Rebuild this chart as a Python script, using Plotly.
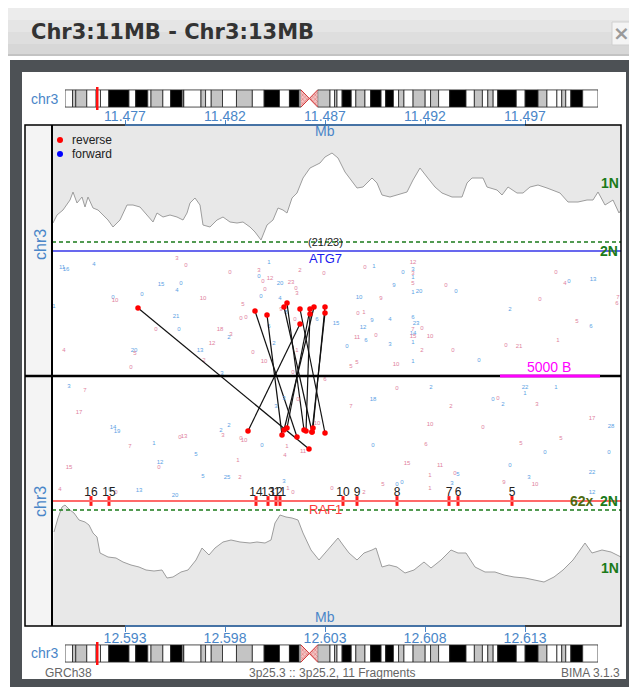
import plotly.graph_objects as go

W, H = 629, 687
def X(px): return px / W
def Y(py): return 1 - py / H

# ---------------- data ----------------
chrom_len = 198.3
band_start = [0, 2.8, 4.0, 8.1, 11.6, 13.2, 16.3, 23.8, 26.3, 30.8, 32.0, 36.4, 39.3, 43.6, 44.1, 44.2, 50.6, 52.3, 54.4, 58.6,
              63.8, 69.7, 74.1, 79.8, 83.5, 87.1, 94.0, 98.6, 100.3, 101.2, 103.1, 106.5, 108.2, 111.6, 113.7, 117.6, 119.3,
              122.2, 124.1, 126.1, 129.5, 134.0, 136.0, 139.0, 143.1, 149.2, 152.3, 155.3, 157.3, 159.3, 161.0, 167.9, 171.2,
              176.0, 179.3, 183.0, 184.8, 186.3, 188.2, 192.6]
band_end = band_start[1:] + [chrom_len]
band_end[band_start.index(87.1)] = 87.8
band_stain = ['w', 'g', 'g', 'w', 'w', 'w', 'b', 'w', 'b', 'w', 'g', 'w', 'b', 'w', 'g', 'w', 'g', 'w', 'g', 'w',
              'g', 'w', 'b', 'w', 'b', 'w', 'g', 'w', 'g', 'w', 'b', 'w', 'g', 'w', 'b', 'w', 'b',
              'w', 'g', 'w', 'g', 'w', 'g', 'w', 'b', 'w', 'g', 'w', 'g', 'w', 'b', 'w', 'b',
              'g', 'w', 'w', 'g', 'w', 'b', 'w']
acen = [87.8, 90.9, 94.0]
region_marker = 12.0

top_ticks = [11.477, 11.482, 11.487, 11.492, 11.497]
bottom_ticks = [12.593, 12.598, 12.603, 12.608, 12.613]

top_cov_pos = [11.4734, 11.4736, 11.4739, 11.47425, 11.4744, 11.4746, 11.47485, 11.475, 11.47515, 11.4754, 11.47565, 11.4759,
               11.47615, 11.4764, 11.47675, 11.4771, 11.4774, 11.47775, 11.4781, 11.4784, 11.4786, 11.4789, 11.47925, 11.4796,
               11.4799, 11.4801, 11.48025, 11.4805, 11.48075, 11.4809, 11.48125, 11.4816, 11.4819, 11.48225, 11.4826, 11.4829,
               11.48325, 11.4835, 11.4838, 11.4841, 11.4844, 11.48465, 11.4849, 11.4851, 11.48535, 11.4856, 11.4859, 11.48625,
               11.48675, 11.487, 11.48735, 11.48765, 11.488, 11.48835, 11.4886, 11.4889, 11.48935, 11.4896, 11.48985, 11.49025,
               11.49065, 11.4911, 11.4914, 11.49175, 11.4921, 11.4925, 11.49285, 11.49335, 11.49385, 11.4941, 11.49435, 11.4949,
               11.4951, 11.4956, 11.49585, 11.49615, 11.4966, 11.4969, 11.49725, 11.49765, 11.4981, 11.4984, 11.49875, 11.49915,
               11.49965, 11.5001, 11.5004, 11.50065, 11.501, 11.5014, 11.5017, 11.5018]
top_cov_depth = [19, 27, 32, 42, 50, 39, 45, 35, 45, 34, 32, 27, 22, 15, 22, 37, 37, 35, 27, 20, 29, 25, 27, 25, 22, 29, 39,
                 44, 37, 17, 15, 22, 25, 20, 19, 20, 15, 10, 2, 17, 22, 34, 32, 29, 44, 49, 64, 74, 79, 85, 89, 84, 70, 60,
                 54, 55, 64, 59, 47, 45, 47, 50, 62, 74, 65, 55, 49, 45, 45, 59, 64, 64, 55, 52, 47, 55, 49, 49, 55, 57, 54,
                 52, 49, 40, 40, 42, 42, 50, 37, 42, 29, 32]

bot_cov_pos = [12.58945, 12.58965, 12.58985, 12.59, 12.59025, 12.59045, 12.5907, 12.591, 12.5912, 12.5914, 12.5916, 12.59175,
               12.59215, 12.59255, 12.5929, 12.5933, 12.5937, 12.59405, 12.59445, 12.59485, 12.5951, 12.5954, 12.5958, 12.59615,
               12.59655, 12.59685, 12.5972, 12.5975, 12.5979, 12.5983, 12.59875, 12.59925, 12.5996, 12.6, 12.6003, 12.6005,
               12.60075, 12.60105, 12.60135, 12.60165, 12.6019, 12.6023, 12.6027, 12.60305, 12.60335, 12.60365, 12.6039, 12.6042,
               12.6046, 12.60495, 12.60535, 12.60555, 12.60585, 12.6062, 12.6066, 12.607, 12.60745, 12.60795, 12.6083, 12.6088,
               12.6093, 12.60965, 12.61005, 12.6105, 12.611, 12.6115, 12.61195, 12.61245, 12.613, 12.6135, 12.61395, 12.61445,
               12.6149, 12.6154, 12.616, 12.61635, 12.61685, 12.6173, 12.6178]
bot_cov_depth = [22, 8, -3, -5, 0, 3, 10, 12, 15, 23, 27, 43, 47, 48, 52, 55, 57, 60, 61, 60, 68, 67, 62, 60, 50, 38, 45, 38,
                 32, 30, 32, 33, 32, 33, 30, 13, 5, 7, 8, 10, 23, 40, 50, 42, 35, 28, 35, 43, 50, 43, 40, 38, 57, 55, 57, 63,
                 60, 52, 58, 50, 40, 43, 43, 57, 62, 62, 65, 67, 68, 70, 72, 67, 60, 50, 33, 43, 40, 42, 47]

top_read_pos = [11.47385, 11.47405, 11.47545, 11.4796, 11.48005, 11.48225, 11.4842, 11.4837, 11.4837, 11.48575, 11.48695,
                11.4839, 11.48425, 11.48475, 11.4853, 11.48555, 11.4856, 11.484, 11.4838, 11.48475, 11.4788, 11.4798, 11.4796,
                11.47785, 11.4764, 11.4765, 11.4809, 11.4829, 11.4848, 11.48505, 11.4828, 11.48305, 11.4855, 11.4866, 11.47955,
                11.47855, 11.4797, 11.48175, 11.4823, 11.4822, 11.4842, 11.48135, 11.48445, 11.47395, 11.47745, 11.4775,
                11.48075, 11.4834, 11.4856, 11.48395, 11.48095, 11.4773, 11.48185, 11.4854, 11.489, 11.48945, 11.4909, 11.4914,
                11.4914, 11.4914, 11.4914, 11.4914, 11.49045, 11.49305, 11.49355, 11.4914, 11.4917, 11.4887, 11.4898, 11.48865,
                11.48895, 11.48755, 11.48935, 11.49025, 11.4914, 11.49155, 11.4889, 11.4914, 11.49185, 11.4914, 11.4914,
                11.49225, 11.4886, 11.48905, 11.48955, 11.4881, 11.49025, 11.4914, 11.49185, 11.4934, 11.4883, 11.4886,
                11.49055, 11.4914, 11.4947, 11.49625, 11.49605, 11.4967, 11.49855, 11.499, 11.4992, 11.5004, 11.49775, 11.50165,
                11.5016, 11.4996, 11.5003, 11.49865, 11.47345]
top_read_jit = [109, 107, 112, 118, 111, 104, 114, 106, 100, 106, 103, 95, 98, 93, 94, 88, 83, 87, 80, 78, 92, 93, 86, 82, 79,
                76, 78, 72, 67, 64, 58, 59, 57, 57, 60, 47, 47, 47, 42, 39, 50, 33, 33, 26, 26, 23, 26, 24, 26, 15, 16, 9, 3,
                4, 109, 110, 104, 114, 107, 103, 99, 93, 91, 91, 85, 84, 85, 79, 78, 63, 64, 53, 56, 57, 59, 53, 49, 47, 48,
                43, 40, 40, 39, 36, 41, 30, 32, 34, 26, 26, 10, 14, 12, 15, 16, 67, 31, 30, 104, 93, 95, 97, 77, 79, 73, 55,
                50, 36, 70]
top_read_txt = ['11', '16', '4', '3', '0', '0', '1', '3', '0', '2', '0', '0', '12', '20', '23', '0', '3', '0', '0', '4', '15',
                '0', '4', '0', '0', '10', '10', '5', '9', '8', '0', '0', '0', '6', '21', '0', '0', '18', '3', '2', '6', '12',
                '2', '4', '20', '5', '13', '0', '1', '10', '2', '0', '3', '0', '0', '1', '0', '12', '3', '3', '1', '5', '9',
                '0', '0', '1', '20', '10', '9', '0', '1', '15', '9', '4', '6', '23', '12', '7', '0', '14', '15', '10', '11',
                '6', '0', '0', '3', '1', '2', '0', '5', '5', '10', '1', '0', '2', '0', '21', '0', '4', '0', '13', '0', '7',
                '6', '5', '6', '1', '1']
top_read_strand = ['f', 'f', 'f', 'r', 'r', 'r', 'f', 'r', 'f', 'r', 'r', 'r', 'r', 'f', 'r', 'r', 'r', 'r', 'f', 'f', 'f',
                   'f', 'f', 'f', 'f', 'r', 'r', 'r', 'r', 'f', 'r', 'r', 'r', 'f', 'f', 'r', 'f', 'r', 'r', 'f', 'f', 'r',
                   'f', 'r', 'f', 'r', 'f', 'r', 'r', 'r', 'r', 'r', 'f', 'r', 'r', 'f', 'f', 'r', 'f', 'r', 'f', 'r', 'f',
                   'r', 'f', 'f', 'f', 'f', 'r', 'r', 'r', 'f', 'f', 'f', 'f', 'f', 'f', 'r', 'r', 'f', 'r', 'r', 'r',
                   'f', 'r', 'f', 'f', 'f', 'r', 'r', 'r', 'r', 'r', 'f', 'f', 'f', 'r', 'r', 'r', 'r', 'f', 'f', 'r', 'r',
                   'r', 'r', 'f', 'r', 'f']

bot_read_pos = [12.5902, 12.591, 12.5907, 12.5924, 12.5926, 12.59325, 12.59445, 12.59575, 12.59595, 12.5902, 12.58975,
                12.59475, 12.5947, 12.59655, 12.5969, 12.5978, 12.5982, 12.5979, 12.5988, 12.59895, 12.59985, 12.59865,
                12.5981, 12.59875, 12.6011, 12.601, 12.6019, 12.60095, 12.60115, 12.6014, 12.59225, 12.59255, 12.5937,
                12.5955, 12.60095, 12.60055, 12.60165, 12.6026, 12.603, 12.6066, 12.6083, 12.6043, 12.6054, 12.6093, 12.6114,
                12.61165, 12.6119, 12.613, 12.613, 12.61455, 12.6136, 12.60825, 12.6109, 12.61635, 12.6173, 12.6148, 12.6128,
                12.6054, 12.60805, 12.614, 12.6172, 12.6071, 12.60875, 12.61225, 12.60825, 12.6095, 12.60965, 12.61635,
                12.6132, 12.61195, 12.6135, 12.6059, 12.6066, 12.60685, 12.60935, 12.60825, 12.60335, 12.60495, 12.61635]
bot_read_jit = [-10, -14, -36, -51, -55, -70, -67, -61, -60, -91, -113, -86, -91, -78, -100, -54, -49, -59, -62, -64, -69,
                -84, -101, -101, -70, -79, -75, -105, -112, -116, -113, -116, -114, -119, -22, -30, -23, -47, -3, -12, -11,
                -30, -23, -30, -23, -22, -28, -11, -17, -11, -28, -48, -51, -42, -50, -62, -67, -69, -68, -76, -76, -87,
                -89, -89, -99, -97, -98, -96, -101, -106, -108, -108, -108, -106, -107, -112, -112, -116, -116]
bot_read_txt = ['3', '7', '17', '14', '19', '7', '1', '0', '13', '15', '4', '12', '0', '5', '5', '2', '2', '3', '0', '10',
                '0', '1', '25', '2', '1', '4', '11', '3', '1', '0', '6', '0', '13', '20', '3', '3', '0', '10', '6', '0',
                '2', '7', '18', '2', '0', '0', '2', '22', '1', '1', '3', '10', '0', '17', '28', '5', '5', '0', '6', '0',
                '0', '15', '11', '0', '1', '0', '5', '22', '3', '9', '10', '5', '0', '0', '3', '1', '0', '2', '12']
bot_read_strand = ['f', 'r', 'r', 'f', 'f', 'r', 'f', 'r', 'r', 'r', 'r', 'f', 'r', 'f', 'f', 'f', 'f', 'r', 'r', 'r',
                   'f', 'r', 'f', 'r', 'r', 'r', 'r', 'f', 'r', 'r', 'f', 'r', 'f', 'f', 'f', 'f', 'r', 'r', 'r', 'r',
                   'f', 'r', 'f', 'r', 'f', 'r', 'f', 'f', 'f', 'f', 'r', 'r', 'r', 'r', 'f', 'r', 'r', 'f', 'r', 'f',
                   'f', 'r', 'r', 'f', 'r', 'r', 'f', 'f', 'f', 'r', 'r', 'r', 'f', 'f', 'f', 'r', 'r', 'r', 'f']

frag_top_pos = [11.47765, 11.4835, 11.4841, 11.48495, 11.4851, 11.48575, 11.48575, 11.48625, 11.48625, 11.48645, 11.487, 11.487]
frag_top_jit = [68, 65, 61, 69, 73, 67, 52, 62, 67, 69, 69, 63]
frag_bot_pos = [12.6022, 12.6016, 12.60085, 12.60235, 12.60195, 12.603, 12.59915, 12.60205, 12.6011, 12.60095, 12.6024, 12.60235]
frag_bot_jit = [-73, -61, -59, -56, -54, -57, -55, -55, -52, -54, -52, -56]

raf1_exon_pos = [12.5913, 12.5922, 12.59955, 12.60015, 12.60055, 12.60075, 12.6039, 12.6046, 12.6066, 12.6092, 12.60965, 12.61235]
raf1_exon_num = ['16', '15', '14', '13', '12', '11', '10', '9', '8', '7', '6', '5']

# ---------------- styling ----------------
STEEL = '#4a86c8'
PINK = '#e0829d'
BLUE = '#5c9fe4'
GREEN = '#1a7a1a'
FONT = 'Liberation Sans, Arial, sans-serif'
TOP_L, TOP_R = 11.47335, 11.5018
BOT_L, BOT_R = 12.58935, 12.6178
OFFSET = bottom_ticks[0] - top_ticks[0]

fig = go.Figure()

# ideograms
cmap = {'w': 'white', 'g': '#c4c4c4', 'b': 'black'}
for xa, ya in [('x3', 'y4'), ('x4', 'y5')]:
    fig.add_trace(go.Bar(orientation='h', y=[0.5] * len(band_start),
                         x=[e - s for s, e in zip(band_start, band_end)], base=band_start, width=1,
                         marker=dict(color=[cmap[c] for c in band_stain], line=dict(color='#222', width=0.8)),
                         xaxis=xa, yaxis=ya, hoverinfo='skip'))
    fig.add_trace(go.Scatter(x=[acen[0], acen[1], acen[0], None, acen[2], acen[1], acen[2]],
                             y=[0, 0.5, 1, None, 0, 0.5, 1], mode='lines', fill='toself',
                             fillcolor='#f3c4c4', fillpattern=dict(shape='x', fgcolor='#d43c3c', size=3, solidity=0.4),
                             line=dict(color='#d03030', width=1), xaxis=xa, yaxis=ya, hoverinfo='skip'))
    fig.add_trace(go.Scatter(x=[region_marker, region_marker], y=[-0.17, 1.17], mode='lines',
                             line=dict(color='#ff1010', width=2.5), xaxis=xa, yaxis=ya, hoverinfo='skip'))

# top coverage
fig.add_trace(go.Scatter(x=[TOP_L, TOP_R], y=[117, 117], mode='lines', line=dict(width=0),
                         xaxis='x', yaxis='y', hoverinfo='skip'))
fig.add_trace(go.Scatter(x=top_cov_pos, y=top_cov_depth, mode='lines', fill='tonexty', fillcolor='#e8e8e8',
                         line=dict(color='#9d9d9d', width=1), xaxis='x', yaxis='y', hoverinfo='skip'))
# bottom coverage
fig.add_trace(go.Scatter(x=[BOT_L, BOT_R], y=[116, 116], mode='lines', line=dict(width=0),
                         xaxis='x2', yaxis='y2', hoverinfo='skip'))
fig.add_trace(go.Scatter(x=bot_cov_pos, y=bot_cov_depth, mode='lines', fill='tonexty', fillcolor='#e8e8e8',
                         line=dict(color='#9d9d9d', width=1), xaxis='x2', yaxis='y2', hoverinfo='skip'))

# read labels
fig.add_trace(go.Scatter(x=top_read_pos, y=top_read_jit, mode='text', text=top_read_txt,
                         textfont=dict(family=FONT, size=6, color=[PINK if s == 'r' else BLUE for s in top_read_strand]),
                         xaxis='x', yaxis='y3', hoverinfo='skip'))
fig.add_trace(go.Scatter(x=bot_read_pos, y=bot_read_jit, mode='text', text=bot_read_txt,
                         textfont=dict(family=FONT, size=6, color=[PINK if s == 'r' else BLUE for s in bot_read_strand]),
                         xaxis='x2', yaxis='y3', hoverinfo='skip'))

# fragment links
lx, ly = [], []
for tp, tj, bp, bj in zip(frag_top_pos, frag_top_jit, frag_bot_pos, frag_bot_jit):
    lx += [tp, bp - OFFSET, None]
    ly += [tj, bj, None]
fig.add_trace(go.Scatter(x=lx, y=ly, mode='lines', line=dict(color='#111', width=1.2),
                         xaxis='x', yaxis='y3', hoverinfo='skip'))
fig.add_trace(go.Scatter(x=frag_top_pos, y=frag_top_jit, mode='markers', marker=dict(color='#ff0000', size=5.5),
                         xaxis='x', yaxis='y3', hoverinfo='skip'))
fig.add_trace(go.Scatter(x=frag_bot_pos, y=frag_bot_jit, mode='markers', marker=dict(color='#ff0000', size=5.5),
                         xaxis='x2', yaxis='y3', hoverinfo='skip'))

# RAF1 exons
fig.add_trace(go.Scatter(x=raf1_exon_pos, y=[-125] * len(raf1_exon_pos), mode='markers',
                         marker=dict(symbol='line-ns', size=7, line=dict(color='#ff1a1a', width=3)),
                         xaxis='x2', yaxis='y3', hoverinfo='skip'))
fig.add_trace(go.Scatter(x=raf1_exon_pos, y=[-117] * len(raf1_exon_pos), mode='text', text=raf1_exon_num,
                         textfont=dict(family=FONT, size=12, color='#222'),
                         xaxis='x2', yaxis='y3', hoverinfo='skip'))

# ---------------- shapes ----------------
shapes = []
def rect(x0, y0, x1, y1, fill=None, line=None, lw=0, layer='below'):
    shapes.append(dict(type='rect', xref='paper', yref='paper', x0=X(x0), x1=X(x1), y0=Y(y1), y1=Y(y0),
                       fillcolor=fill or 'rgba(0,0,0,0)', line=dict(color=line or 'rgba(0,0,0,0)', width=lw), layer=layer))
def hline(x0, x1, py, color, w, dash=None, layer='above'):
    shapes.append(dict(type='line', xref='paper', yref='paper', x0=X(x0), x1=X(x1), y0=Y(py), y1=Y(py),
                       line=dict(color=color, width=w, dash=dash), layer=layer))

# header gradient
for i, c in enumerate(['#ececec', '#e5e5e5', '#dedede', '#d7d7d7']):
    rect(8, 8 + i * 12, 629, 20 + i * 12, fill=c)
hline(8, 629, 55, '#bcbcbc', 1.5, layer='below')
rect(612, 22, 632, 45, fill='#f4f4f4', line='#cfcfcf', lw=1)
# dark frame & white inner
rect(10, 60, 640, 700, fill='#4d5155')
rect(22, 72, 626, 679, fill='white')
# left strip
rect(25, 125, 52, 626, fill='#f4f4f4')

# data-referenced lines
shapes.append(dict(type='line', xref='x domain', yref='y', x0=0, x1=1, y0=0, y1=0,
                   line=dict(color=GREEN, width=1.6, dash='4px,3px'), layer='above'))
shapes.append(dict(type='line', xref='x domain', yref='y2', x0=0, x1=1, y0=0, y1=0,
                   line=dict(color=GREEN, width=1.6, dash='4px,3px'), layer='above'))
shapes.append(dict(type='line', xref='x domain', yref='y3', x0=0, x1=1, y0=125, y1=125,
                   line=dict(color='#6868ee', width=2), layer='above'))
shapes.append(dict(type='line', xref='x domain', yref='y3', x0=0, x1=1, y0=-125, y1=-125,
                   line=dict(color='#ff6a6a', width=2), layer='above'))
shapes.append(dict(type='line', xref='paper', yref='y3', x0=X(25), x1=X(621), y0=0, y1=0,
                   line=dict(color='black', width=2.5), layer='above'))
shapes.append(dict(type='line', xref='x', yref='y3', x0=11.49575, x1=11.50075, y0=0, y1=0,
                   line=dict(color='#ff00ff', width=3), layer='above'))
# panel borders
rect(25, 125, 621, 626, line='black', lw=1.5, layer='above')
shapes.append(dict(type='line', xref='paper', yref='paper', x0=X(52), x1=X(52), y0=Y(626), y1=Y(125),
                   line=dict(color='black', width=2), layer='above'))
# axis baselines
shapes.append(dict(type='line', xref='x', yref='paper', x0=top_ticks[0], x1=top_ticks[-1], y0=Y(125), y1=Y(125),
                   line=dict(color=STEEL, width=1.5), layer='above'))
shapes.append(dict(type='line', xref='x2', yref='paper', x0=bottom_ticks[0], x1=bottom_ticks[-1], y0=Y(626), y1=Y(626),
                   line=dict(color=STEEL, width=1.5), layer='above'))
# legend dots
for py, c in [(140, '#ff0000'), (154, '#0000ff')]:
    shapes.append(dict(type='circle', xref='paper', yref='paper', x0=X(57), x1=X(63), y0=Y(py + 3), y1=Y(py - 3),
                       fillcolor=c, line=dict(color=c, width=0), layer='above'))

# ---------------- annotations ----------------
anns = []
def ann(text, px, py, size=12, color='#333', xanchor='center', angle=0, family=FONT, bold=False):
    if bold:
        text = '<b>' + text + '</b>'
    anns.append(dict(text=text, x=X(px), y=Y(py), xref='paper', yref='paper', showarrow=False,
                     xanchor=xanchor, yanchor='middle', textangle=angle,
                     font=dict(size=size, color=color, family=family)))

ann('Chr3:11MB - Chr3:13MB', 29, 32, size=21, color='#333', xanchor='left', family='DejaVu Sans', bold=True)
ann('×', 621, 33, size=20, color='#9a9a9a', bold=True, family='DejaVu Sans')
ann('chr3', 44, 99, size=14, color=STEEL)
ann('chr3', 44, 653, size=14, color=STEEL)
ann('reverse', 70, 140, size=12, color='#222', xanchor='left')
ann('forward', 70, 154, size=12, color='#222', xanchor='left')
ann('Mb', 325, 131, size=14, color=STEEL)
ann('Mb', 325, 617, size=14, color=STEEL)
ann('(21/23)', 325, 242, size=11, color='#222')
ann('ATG7', 325, 258, size=13, color='#1a1aee')
ann('RAF1', 325, 509, size=13, color='#ff3b3b')
ann('1N', 610, 183, size=14, color=GREEN, bold=True)
ann('2N', 609, 251, size=14, color=GREEN, bold=True)
ann('2N', 609, 501, size=14, color=GREEN, bold=True)
ann('62x', 582, 501, size=14, color='#4f6b10', bold=True)
ann('1N', 610, 568, size=14, color=GREEN, bold=True)
ann('5000 B', 549, 367, size=14, color='#ff00ff')
ann('chr3', 40, 245, size=16, color=STEEL, angle=-90)
ann('chr3', 40, 502, size=16, color=STEEL, angle=-90)
ann('GRCh38', 68, 673, size=12, color='#666')
ann('3p25.3 :: 3p25.2, 11 Fragments', 332, 673, size=12, color='#666')
ann('BIMA 3.1.3', 590, 673, size=12, color='#666')

tickfont = dict(family=FONT, size=14, color=STEEL)
fig.update_layout(
    width=W, height=H, margin=dict(l=0, r=0, t=0, b=0, pad=0),
    paper_bgcolor='white', plot_bgcolor='rgba(0,0,0,0)', showlegend=False, barmode='overlay',
    shapes=shapes, annotations=anns,
    xaxis=dict(domain=[X(52), X(621)], range=[TOP_L, TOP_R], anchor='free', position=Y(125), side='top',
               tickvals=top_ticks, tickformat='.3f', ticks='outside', ticklen=5, tickcolor=STEEL, tickwidth=1,
               ticklabelstandoff=-7,
               tickfont=tickfont, showline=False, showgrid=False, zeroline=False, fixedrange=True),
    yaxis=dict(domain=[Y(246), Y(125)], range=[-4, 117], visible=False, anchor='x', fixedrange=True),
    xaxis2=dict(domain=[X(52), X(621)], range=[BOT_L, BOT_R], anchor='free', position=Y(626), side='bottom',
                tickvals=bottom_ticks, tickformat='.3f', ticks='outside', ticklen=5, tickcolor=STEEL, tickwidth=1,
                ticklabelstandoff=-6,
                tickfont=tickfont, showline=False, showgrid=False, zeroline=False, fixedrange=True),
    yaxis2=dict(domain=[Y(626), Y(502)], range=[116, -8], visible=False, anchor='x2', fixedrange=True),
    yaxis3=dict(domain=[Y(506), Y(246)], range=[-130, 130], visible=False, anchor='x', fixedrange=True),
    xaxis3=dict(domain=[X(65), X(598)], range=[0, chrom_len], visible=False, anchor='y4', fixedrange=True),
    yaxis4=dict(domain=[Y(110.5), Y(86.5)], range=[-0.2, 1.2], visible=False, anchor='x3', fixedrange=True),
    xaxis4=dict(domain=[X(65), X(598)], range=[0, chrom_len], visible=False, anchor='y5', fixedrange=True),
    yaxis5=dict(domain=[Y(665.5), Y(641.5)], range=[-0.2, 1.2], visible=False, anchor='x4', fixedrange=True),
)

fig.write_html('out.html', config={'displayModeBar': False},
               post_script="document.body.style.margin='0';document.body.style.overflow='hidden';")
